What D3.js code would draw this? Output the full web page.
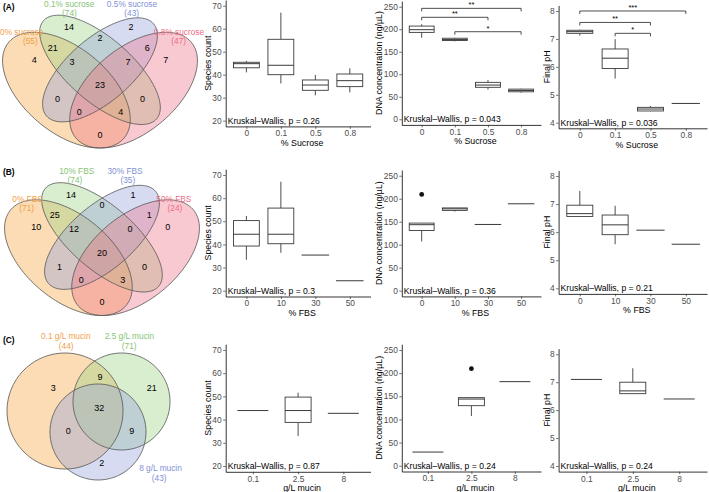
<!DOCTYPE html>
<html><head><meta charset="utf-8">
<script src="https://cdn.jsdelivr.net/npm/d3@7"></script>
<style>
body{margin:0;background:#fff}
svg{display:block}
text{font-family:"Liberation Sans",Arial,Helvetica,sans-serif}
</style></head>
<body><svg id="c" width="709" height="492"></svg>
<script>
// ---------------- DATA ----------------
// Venn diagrams
const sucroseSetNames = ["0% sucrose","0.1% sucrose","0.5% sucrose","0.8% sucrose"];
const sucroseSetTotals = [55,74,43,47];
const fbsSetNames = ["0% FBS","10% FBS","30% FBS","50% FBS"];
const fbsSetTotals = [71,74,35,24];
const quadRegions = ["o","g","b","p","og","gb","bp","ob","gp","op","ogb","gbp","obp","ogp","ogbp"];
const sucroseRegionCounts = [4,14,2,7,21,2,6,0,0,0,3,7,0,4,23];
const fbsRegionCounts     = [10,14,1,0,25,0,1,1,0,0,12,0,0,3,20];
const mucinSetNames = ["0.1 g/L mucin","2.5 g/L mucin","8 g/L mucin"];
const mucinSetTotals = [44,71,43];
const tripleRegions = ["o","g","b","og","gb","ob","ogb"];
const mucinRegionCounts = [3,21,2,9,9,0,32];

// Box plots: [min, q1, median, q3, max] per category
const sucroseCats = ["0","0.1","0.5","0.8"];
const fbsCats = ["0","10","30","50"];
const mucinCats = ["0.1","2.5","8"];

const sucroseSpecies = [[41,43,44.8,45.4,46],[36.2,40,44.1,55.4,67],[31,33.2,35.5,37.7,39.9],[32.3,34.8,37.4,40.3,42.8]];
const sucroseDNA = [[181,193,199,207,211],[173,175,177,180,181],[66,71,76,82,87],[59,61,64,67,68]];
const sucrosePH = [[7.12,7.2,7.26,7.31,7.33],[5.58,5.94,6.31,6.64,6.99],[4.41,4.42,4.49,4.55,4.6],[4.69,4.69,4.69,4.69,4.69]];
const fbsSpecies = [[33.4,39.3,44.4,50.3,52.3],[36.4,40.3,44.4,55.7,67.1],[35.4,35.4,35.4,35.4,35.4],[24.3,24.3,24.3,24.3,24.3]];
const fbsDNA = [[107,131,143.5,147,147],[172,174.6,178,180,180],[144,144,144,144,144],[189,189,189,189,189]];
const fbsPH = [[6.56,6.56,6.66,6.96,7.47],[5.57,5.91,6.26,6.61,6.94],[6.07,6.07,6.07,6.07,6.07],[5.57,5.57,5.57,5.57,5.57]];
const mucinSpecies = [[43.9,43.9,43.9,43.9,43.9],[32.9,38.8,43.9,49.7,51.6],[42.7,42.7,42.7,42.7,42.7]];
const mucinDNA = [[29.5,29.5,29.5,29.5,29.5],[107.3,129.7,144,147,147],[181.6,181.6,181.6,181.6,181.6]];
const mucinPH = [[7.1,7.1,7.1,7.1,7.1],[6.59,6.59,6.69,7.0,7.5],[6.4,6.4,6.4,6.4,6.4]];

const fbsDNAOutliers = [[209.4],[],[],[]];
const mucinDNAOutliers = [[],[209.7],[]];

// significance brackets: [fromIndex, toIndex, y value, label]
const sucroseDNABrackets = [[0,3,246.4,"**"],[0,2,226.5,"**"],[1,3,194.5,"*"]];
const sucrosePHBrackets = [[0,3,8.0,"***"],[0,2,7.59,"**"],[1,2,7.2,"*"]];

const pSucrose = ["0.26","0.043","0.036"];
const pFBS = ["0.3","0.36","0.21"];
const pMucin = ["0.87","0.24","0.24"];

const speciesTicks = [20,30,40,50,60,70];
const dnaTicks = [0,50,100,150,200,250];
const phTicks = [4,5,6,7,8];

// ---------------- DRAWING ----------------
const svg = d3.select("#c");
const TICKCOL = "#4D4D4D", BOXCOL = "#3a3a3a";

function boxPanel(cfg){
  const g = svg.append("g");
  const pad = (cfg.lim[1]-cfg.lim[0])*0.05;
  const y = d3.scaleLinear().domain([cfg.lim[0]-pad, cfg.lim[1]+pad]).range(cfg.yr);
  const x = d3.scalePoint().domain(cfg.cats).range(cfg.xr).padding(0.6);
  const bw = Math.min(0.75*x.step(), 26), lw = Math.min(0.8*x.step(), 31);
  const yb = cfg.yr[0];
  const ya = g.append("g").attr("transform",`translate(${cfg.xr[0]},0)`)
    .call(d3.axisLeft(y).tickValues(cfg.ticks).tickFormat(d3.format("~g")).tickSize(2.5).tickSizeOuter(0).tickPadding(1.5));
  const xa = g.append("g").attr("transform",`translate(0,${yb})`)
    .call(d3.axisBottom(x).tickSize(2.5).tickSizeOuter(0).tickPadding(1.5));
  [ya,xa].forEach(a=>{
    a.select(".domain").attr("stroke","#000").attr("stroke-width",0.8);
    a.selectAll(".tick line").attr("stroke","#333").attr("stroke-width",0.7);
    a.selectAll(".tick text").attr("fill",TICKCOL).style("font-size","8.4px").style("font-family",'"Liberation Sans",Arial,sans-serif');
  });
  // titles
  g.append("text").attr("transform",`translate(${cfg.ytx},${(cfg.yr[0]+cfg.yr[1])/2}) rotate(-90)`)
    .attr("text-anchor","middle").attr("dy","0.35em").style("font-size","8.8px").text(cfg.yTitle);
  g.append("text").attr("x",(cfg.xr[0]+cfg.xr[1])/2+4).attr("y",yb+16.5)
    .attr("text-anchor","middle").attr("dy","0.35em").style("font-size","8.8px").text(cfg.xTitle);
  // boxes
  cfg.stats.forEach((s,i)=>{
    const cx = x(cfg.cats[i]);
    if(s[1]===s[3] && s[0]===s[4]){
      g.append("line").attr("x1",cx-lw/2).attr("x2",cx+lw/2).attr("y1",y(s[2])).attr("y2",y(s[2]))
        .attr("stroke",BOXCOL).attr("stroke-width",1);
      return;
    }
    g.append("line").attr("x1",cx).attr("x2",cx).attr("y1",y(s[0])).attr("y2",y(s[1])).attr("stroke",BOXCOL).attr("stroke-width",0.9);
    g.append("line").attr("x1",cx).attr("x2",cx).attr("y1",y(s[3])).attr("y2",y(s[4])).attr("stroke",BOXCOL).attr("stroke-width",0.9);
    g.append("rect").attr("x",cx-bw/2).attr("y",y(s[3])).attr("width",bw).attr("height",Math.max(0.5,y(s[1])-y(s[3])))
      .attr("fill","#fff").attr("stroke",BOXCOL).attr("stroke-width",0.9);
    g.append("line").attr("x1",cx-bw/2).attr("x2",cx+bw/2).attr("y1",y(s[2])).attr("y2",y(s[2])).attr("stroke",BOXCOL).attr("stroke-width",1);
  });
  (cfg.outliers||[]).forEach((arr,i)=>arr.forEach(v=>{
    g.append("circle").attr("cx",x(cfg.cats[i])).attr("cy",y(v)).attr("r",2.4).attr("fill","#111");
  }));
  (cfg.brackets||[]).forEach(b=>{
    const x1=x(cfg.cats[b[0]]), x2=x(cfg.cats[b[1]]), yy=y(b[2]);
    g.append("path").attr("d",`M${x1},${yy+3}V${yy}H${x2}V${yy+3}`).attr("fill","none").attr("stroke","#222").attr("stroke-width",0.8);
    g.append("text").attr("x",(x1+x2)/2).attr("y",yy-1.2).attr("text-anchor","middle").style("font-size","7.5px").text(b[3]);
  });
  g.append("text").attr("x",cfg.xr[0]+2).attr("y",y(cfg.lim[0])).attr("dy","0.35em")
    .style("font-size","8.6px").text("Kruskal\u2013Wallis, p = "+cfg.p);
}

const colX = {sp:[225.7,370.5], dna:[401.8,541], ph:[558.6,707]};
const rows = [
  {cats:sucroseCats, xt:"% Sucrose", sets:[sucroseSpecies,sucroseDNA,sucrosePH], p:pSucrose,
   yr:[[126.4,0],[124.9,1.1],[128.3,5.4]], out:[null,null,null], br:[null,sucroseDNABrackets,sucrosePHBrackets]},
  {cats:fbsCats, xt:"% FBS", sets:[fbsSpecies,fbsDNA,fbsPH], p:pFBS,
   yr:[[296.5,169.2],[296.4,170],[293.9,170.4]], out:[null,fbsDNAOutliers,null], br:[null,null,null]},
  {cats:mucinCats, xt:"g/L mucin", sets:[mucinSpecies,mucinDNA,mucinPH], p:pMucin,
   yr:[[471.8,344.2],[471.5,344.2],[471.6,348.7]], out:[null,mucinDNAOutliers,null], br:[null,null,null]}
];
const metrics = [
  {key:"sp", lim:[20,70], ticks:speciesTicks, title:"Species count", ytx:208},
  {key:"dna", lim:[0,250], ticks:dnaTicks, title:"DNA concentration (ng/\u00b5L)", ytx:378.5},
  {key:"ph", lim:[4,8], ticks:phTicks, title:"Final pH", ytx:547}
];
rows.forEach(r=>metrics.forEach((m,k)=>{
  boxPanel({cats:r.cats, stats:r.sets[k], outliers:r.out[k], brackets:r.br[k], p:r.p[k],
    xTitle:r.xt, yTitle:m.title, lim:m.lim, ticks:m.ticks, xr:colX[m.key], yr:r.yr[k], ytx:m.ytx});
}));

// ---------- Venn diagrams ----------
const vennFill = ["#F5A23C","#9BD181","#92A1DD","#EE7087"];
const vennText = ["#F0A048","#86C473","#7F90D6","#EE6C84"];
const quadEllipses = [[0.35,0.47,0.35,0.20,135],[0.50,0.57,0.35,0.15,135],[0.50,0.57,0.33,0.15,45],[0.65,0.47,0.35,0.20,45]];
const quadLabelPos = {g:[0.362,0.78],b:[0.638,0.78],gb:[0.5,0.73],o:[0.206,0.62],p:[0.794,0.62],
  og:[0.289,0.679],bp:[0.711,0.679],ogb:[0.375,0.61],gbp:[0.625,0.61],ogbp:[0.5,0.495],
  ob:[0.31,0.425],gp:[0.69,0.425],obp:[0.407,0.362],ogp:[0.593,0.362],op:[0.5,0.252]};

function ellipsePts(e){
  const [cx,cy,a,b,rot]=e, t=rot*Math.PI/180, pts=[];
  for(let i=0;i<120;i++){const u=i/120*2*Math.PI;
    pts.push([cx+a*Math.cos(u)*Math.cos(t)-b*Math.sin(u)*Math.sin(t), cy+a*Math.cos(u)*Math.sin(t)+b*Math.sin(u)*Math.cos(t)]);}
  return pts;
}
function drawVenn(shapes, L, names, totals, regions, counts, labelPos, nameLay, letter){
  const g = svg.append("g");
  const xs = d3.scaleLinear().domain([0,1]).range([L.cx-L.sx/2, L.cx+L.sx/2]);
  const ys = d3.scaleLinear().domain([L.v0,1]).range([L.by, L.by-(1-L.v0)*L.sy]);
  const line = d3.line().x(d=>xs(d[0])).y(d=>ys(d[1])).curve(d3.curveLinearClosed);
  shapes.forEach((pts,i)=>g.append("path").attr("d",line(pts)).attr("fill",vennFill[i]).attr("fill-opacity",0.38));
  shapes.forEach(pts=>g.append("path").attr("d",line(pts)).attr("fill","none").attr("stroke","#555").attr("stroke-width",0.8));
  regions.forEach((r,i)=>{
    const p = labelPos[r];
    g.append("text").attr("x",xs(p[0])).attr("y",ys(p[1])).attr("dy","0.35em").attr("text-anchor","middle")
      .style("font-size","9px").text(counts[i]);
  });
  names.forEach((n,i)=>{
    const q = nameLay[i];
    g.append("text").attr("x",q[0]).attr("y",q[1]).attr("dy","0.35em").attr("text-anchor","middle")
      .attr("fill",vennText[i]).style("font-size","8.3px").text(n);
    g.append("text").attr("x",q[2]).attr("y",q[3]).attr("dy","0.35em").attr("text-anchor","middle")
      .attr("fill",vennText[i]).style("font-size","8.3px").text("("+totals[i]+")");
  });
  g.append("text").attr("x",L.lx).attr("y",L.ly).attr("dy","0.35em").style("font-size","8.4px").style("font-weight","bold").text(letter);
}
const quadShapes = quadEllipses.map(ellipsePts);
drawVenn(quadShapes, {cx:100,sx:224,sy:203,by:148,v0:0.185,lx:3,ly:7.3}, sucroseSetNames, sucroseSetTotals,
  quadRegions, sucroseRegionCounts, quadLabelPos,
  [[21.7,32.3,30.3,41.2],[69.2,3.8,69.5,12.6],[132,3.8,131.7,12.6],[179,32.3,178.7,41.2]], "(A)");
drawVenn(quadShapes, {cx:102,sx:224,sy:203,by:315.5,v0:0.185,lx:3,ly:171.7}, fbsSetNames, fbsSetTotals,
  quadRegions, fbsRegionCounts, quadLabelPos,
  [[27.5,199.3,26.7,208.3],[76.7,170.7,75,180],[125,170.7,127.8,180],[173.8,199.3,175,208.3]], "(B)");

// triple (circles), in unit coordinates
const tripleCircles = [[0.325,0.545,0.29],[0.6075,0.5925,0.2425],[0.49,0.44,0.24]];
const tripleLabelPos = {o:[0.2665,0.6615],og:[0.5,0.7165],g:[0.7585,0.6615],ogb:[0.4965,0.5585],
  ob:[0.3415,0.445],gb:[0.6585,0.445],b:[0.5085,0.2835]};
const tripleShapes = tripleCircles.map(c=>ellipsePts([c[0],c[1],c[2],c[2],0]));
drawVenn(tripleShapes, {cx:100,sx:200,sy:200,by:520,v0:0,lx:3,ly:340}, mucinSetNames, mucinSetTotals,
  tripleRegions, mucinRegionCounts, tripleLabelPos,
  [[65.8,336,66.2,345.7],[129.5,336,129.2,345.7],[160.5,468.3,159.2,478.3]], "(C)");
</script>
</body></html>
